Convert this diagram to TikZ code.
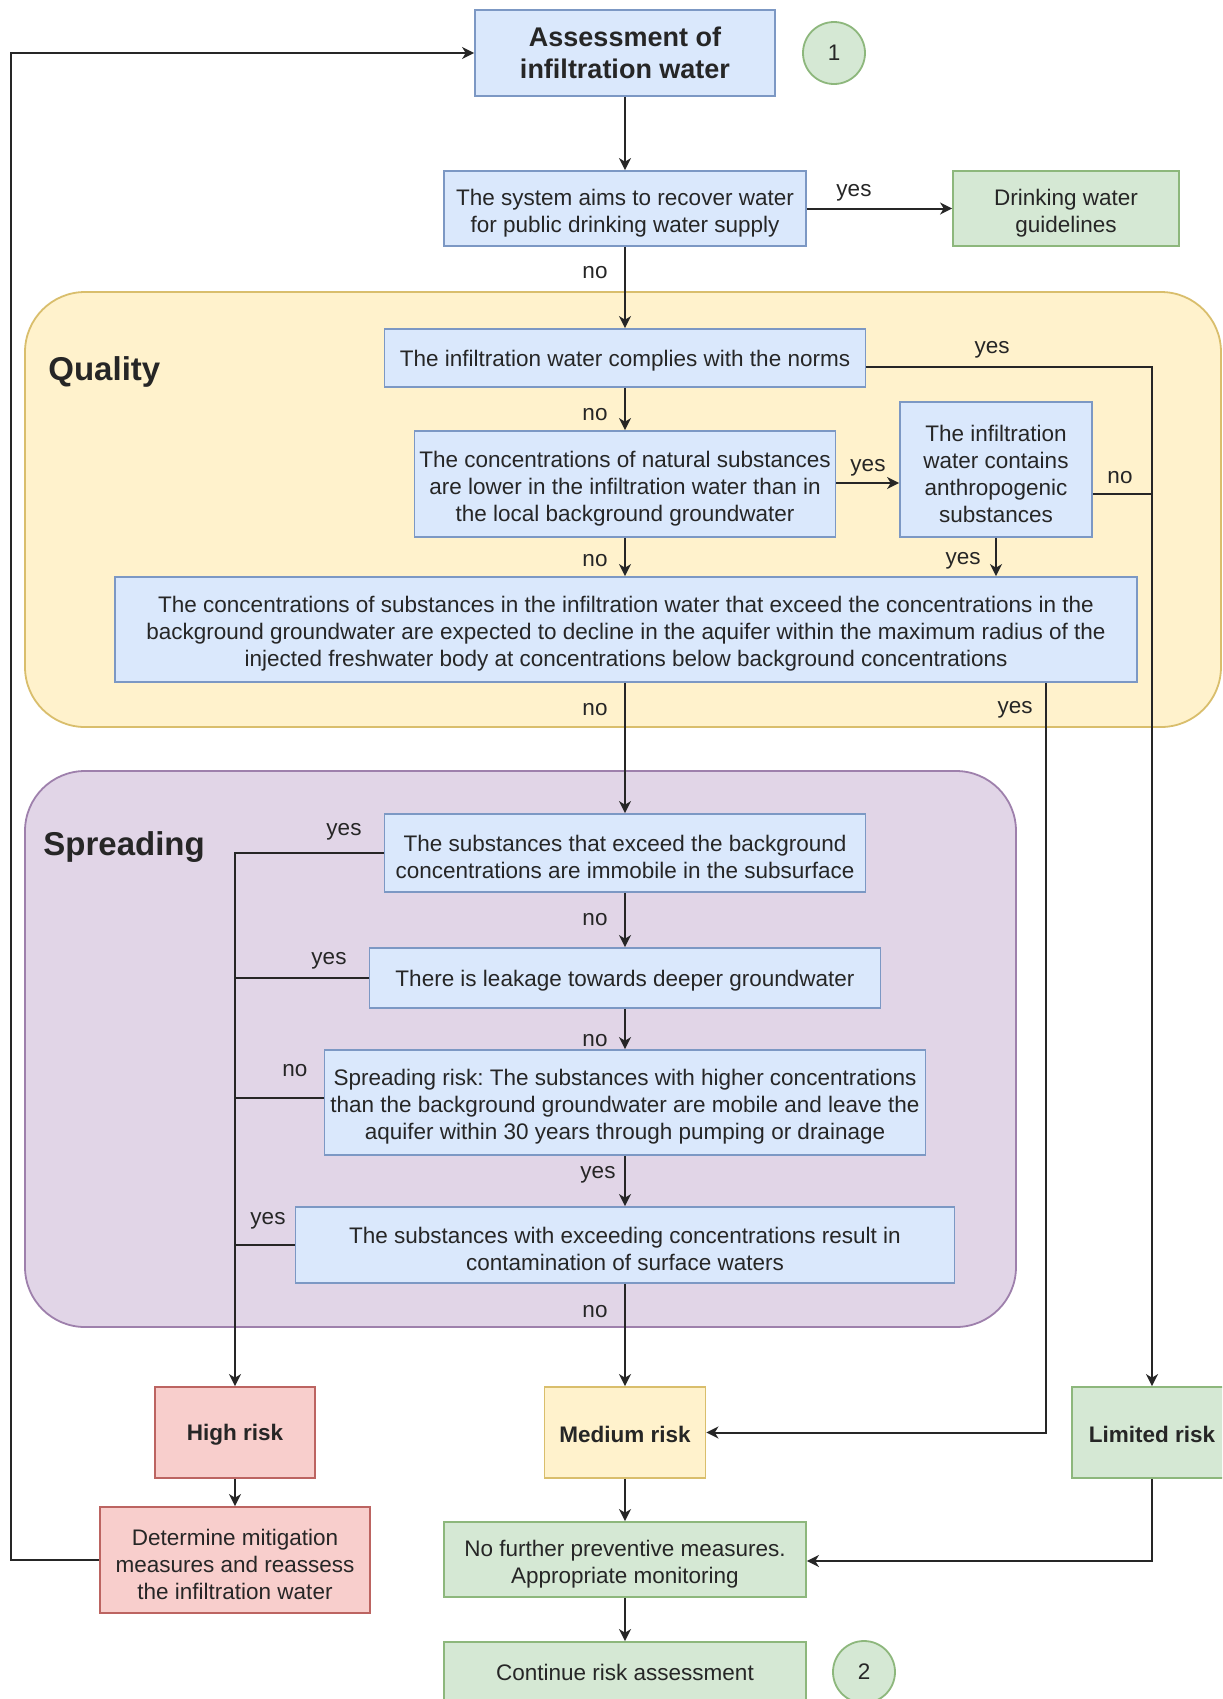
\documentclass[tikz,border=0pt]{standalone}
\usepackage{fontspec}
\setmainfont{Liberation Sans}
\usetikzlibrary{arrows.meta,calc}
\frenchspacing
\definecolor{bfill}{HTML}{DAE8FC}\definecolor{bline}{HTML}{7C98C4}
\definecolor{gfill}{HTML}{D5E8D4}\definecolor{gline}{HTML}{8DB77C}
\definecolor{rfill}{HTML}{F8CECC}\definecolor{rline}{HTML}{BC6461}
\definecolor{yfill}{HTML}{FFF2CC}\definecolor{yline}{HTML}{D9BE6C}
\definecolor{pfill}{HTML}{E1D5E7}\definecolor{pline}{HTML}{9E80AC}
\definecolor{ink}{HTML}{262626}
\newcommand\pxu{0.5pt}
\newcommand\normtxt{\fontsize{11.25pt}{13.5pt}\selectfont}
\newcommand\titletxt{\fontsize{13.5pt}{15.7pt}\selectfont\bfseries}
\newcommand\grouptxt{\fontsize{16.5pt}{19pt}\selectfont\bfseries}
\begin{document}
\begin{tikzpicture}[x=0.5pt,y=-0.5pt,
  sz/.style 2 args={minimum width=#1*\pxu, minimum height=#2*\pxu},
  box/.style={draw, line width=0.9pt, inner sep=0pt},
  bluebox/.style={box, fill=bfill, draw=bline},
  greenbox/.style={box, fill=gfill, draw=gline},
  redbox/.style={box, fill=rfill, draw=rline},
  yellowbox/.style={box, fill=yfill, draw=yline},
  txt/.style={inner sep=0pt, align=center, font=\normtxt, text=ink},
  btxt/.style={inner sep=0pt, align=center, font=\normtxt\bfseries, text=ink},
  circ/.style={circle, draw=gline, fill=gfill, line width=0.9pt, minimum size=62*\pxu, inner sep=0pt, font=\normtxt, text=ink},
  lbl/.style={inner sep=0pt, font=\normtxt, text=ink},
  conn/.style={draw=ink, line width=1pt},
  arr/.style={conn, -{Stealth[length=6pt,width=6pt,inset=1.8pt]}},
  group/.style={line width=0.9pt, rounded corners=30pt},
  gtitle/.style={anchor=base west, inner sep=0pt, font=\grouptxt, text=ink}
]
\clip (0,0) rectangle (1222,1699);
\fill[white] (0,0) rectangle (1222,1699);

% containers
\draw[group, fill=yfill, draw=yline] (25,292) rectangle (1221,727);
\draw[group, fill=pfill, draw=pline] (25,771) rectangle (1016,1327);
\node[gtitle] (qual) at (48,380) {Quality};
\node[gtitle] (spread) at (43,855) {Spreading};

% boxes
\node[bluebox, sz={300}{86}] (assess) at (625,53) {};
\node[txt, font=\titletxt] (assesst) at (assess.center) {Assessment of\\infiltration water};
\node[circ] (c1) at (834,53) {1};

\node[bluebox, sz={362}{75}] (aims) at (625,208.5) {};
\node[txt] (aimst) at ([yshift=-2.2pt]aims.center) {The system aims to recover water\\for public drinking water supply};

\node[greenbox, sz={226}{75}] (drink) at (1066,208.5) {};
\node[txt] (drinkt) at ([yshift=-2.2pt]drink.center) {Drinking water\\guidelines};

\node[bluebox, sz={481}{58}] (comp) at (625,358) {};
\node[txt] (compt) at ([yshift=-1.5pt]comp.center) {The infiltration water complies with the norms};

\node[bluebox, sz={421}{106}] (nat) at (625,484) {};
\node[txt] (natt) at ([yshift=-2.2pt]nat.center) {The concentrations of natural substances\\are lower in the infiltration water than in\\the local background groundwater};

\node[bluebox, sz={192}{135}] (anth) at (996,469.5) {};
\node[txt] (antht) at ([yshift=-2.2pt]anth.center) {The infiltration\\water contains\\anthropogenic\\substances};

\node[bluebox, sz={1022}{105}] (big) at (626,629.5) {};
\node[txt] (bigt) at ([yshift=-2.2pt]big.center) {The concentrations of substances in the infiltration water that exceed the concentrations in the\\background groundwater are expected to decline in the aquifer within the maximum radius of the\\injected freshwater body at concentrations below background concentrations};

\node[bluebox, sz={481}{78}] (immo) at (625,853) {};
\node[txt] (immot) at ([yshift=-2.2pt]immo.center) {The substances that exceed the background\\concentrations are immobile in the subsurface};

\node[bluebox, sz={511}{60}] (leak) at (625,978) {};
\node[txt] (leakt) at ([yshift=-1.5pt]leak.center) {There is leakage towards deeper groundwater};

\node[bluebox, sz={601}{105}] (srisk) at (625,1102.5) {};
\node[txt] (srisktt) at ([yshift=-2.2pt]srisk.center) {Spreading risk: The substances with higher concentrations\\than the background groundwater are mobile and leave the\\aquifer within 30 years through pumping or drainage};

\node[bluebox, sz={659}{76}] (surf) at (625,1245) {};
\node[txt] (surft) at ([yshift=-2.2pt]surf.center) {The substances with exceeding concentrations result in\\contamination of surface waters};

\node[redbox, sz={160}{91}] (high) at (235,1432.5) {};
\node[btxt] (hight) at ([yshift=-1pt]high.center) {High risk};
\node[yellowbox, sz={161}{91}] (med) at (625,1432.5) {};
\node[btxt] (medt) at ([yshift=-1pt]med.center) {Medium risk};
\node[greenbox, sz={160}{91}] (lim) at (1152,1432.5) {};
\node[btxt] (limt) at ([yshift=-1pt]lim.center) {Limited risk};

\node[redbox, sz={270}{106}] (mitig) at (235,1560) {};
\node[txt] (mitigt) at ([yshift=-2.2pt]mitig.center) {Determine mitigation\\measures and reassess\\the infiltration water};

\node[greenbox, sz={362}{75}] (nofur) at (625,1559.5) {};
\node[txt] (nofurt) at ([yshift=-2.2pt]nofur.center) {No further preventive measures.\\Appropriate monitoring};

\node[greenbox, sz={362}{61}] (cont) at (625,1672.5) {};
\node[txt] (contt) at (cont.center) {Continue risk assessment};
\node[circ] (c2) at (864,1672) {2};

% helper coordinates
\coordinate (loopx) at (11,1560);
\coordinate (jq) at (1152,367);
\coordinate (ja) at (1152,494);
\coordinate (jy) at (1046,1432.5);
\coordinate (jl) at (235,853);
\coordinate (jb) at (1152,1561);

% connectors
\draw[arr] (mitig.west) -- (loopx) |- (assess.west);
\draw[arr] (assess.south) -- (aims.north);
\draw[arr] (aims.east) -- (drink.west);
\draw[arr] (aims.south) -- (comp.north);
\draw[arr] (comp.east |- jq) -- (jq) -- (lim.north);
\draw[conn] (anth.east |- ja) -- (ja);
\draw[arr] (comp.south) -- (nat.north);
\draw[arr] (nat.east |- 0,483) -- (anth.west |- 0,483);
\draw[arr] (nat.south) -- (nat.south |- big.north);
\draw[arr] (anth.south) -- (anth.south |- big.north);
\draw[arr] (big.south -| immo.north) -- (immo.north);
\draw[arr] (big.south -| jy) -- (jy) -- (med.east);
\draw[arr] (immo.west |- jl) -- (jl) -- (high.north);
\draw[conn] (leak.west) -- (leak.west -| jl);
\draw[conn] (srisk.west |- 0,1098) -- (jl |- 0,1098);
\draw[conn] (surf.west) -- (surf.west -| jl);
\draw[arr] (immo.south) -- (leak.north);
\draw[arr] (leak.south) -- (srisk.north);
\draw[arr] (srisk.south) -- (surf.north);
\draw[arr] (surf.south) -- (med.north);
\draw[arr] (high.south) -- (mitig.north);
\draw[arr] (med.south) -- (nofur.north);
\draw[arr] (lim.south) -- (jb) -- (nofur.east |- jb);
\draw[arr] (nofur.south) -- (cont.north);

% labels
\node[lbl] (l1) at (854,193) {yes};
\node[lbl] (l2) at (595,273) {no};
\node[lbl] (l3) at (992,350) {yes};
\node[lbl] (l4) at (595,415) {no};
\node[lbl] (l5) at (868,468) {yes};
\node[lbl] (l6) at (1120,478) {no};
\node[lbl] (l7) at (595,561) {no};
\node[lbl] (l8) at (963,561) {yes};
\node[lbl] (l9) at (595,710) {no};
\node[lbl] (l10) at (1015,710) {yes};
\node[lbl] (l11) at (344,832) {yes};
\node[lbl] (l12) at (595,920) {no};
\node[lbl] (l13) at (329,961) {yes};
\node[lbl] (l14) at (595,1041) {no};
\node[lbl] (l15) at (295,1071) {no};
\node[lbl] (l16) at (598,1175) {yes};
\node[lbl] (l17) at (268,1221) {yes};
\node[lbl] (l18) at (595,1312) {no};
\end{tikzpicture}
\end{document}
